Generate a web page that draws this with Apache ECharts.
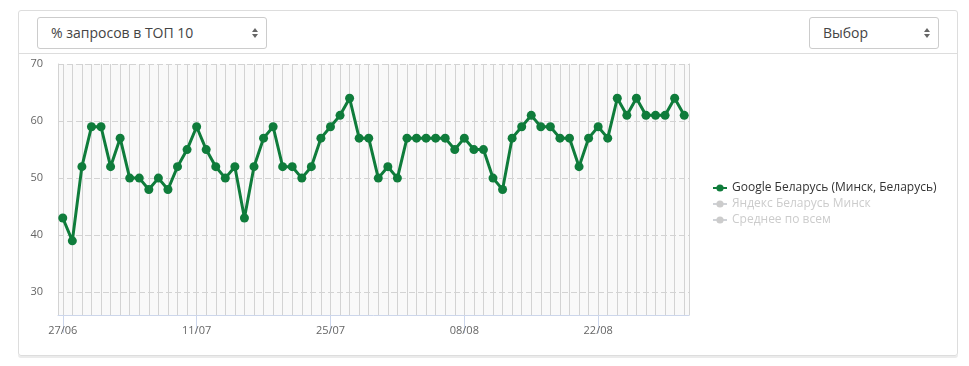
<!DOCTYPE html>
<html>
<head>
<meta charset="utf-8">
<script src="https://cdn.jsdelivr.net/npm/echarts@6/dist/echarts.min.js"></script>
<style>
html, body { margin: 0; padding: 0; background: #fff; font-family: "Open Sans", sans-serif; }
#panel {
	position: absolute; left: 18px; top: 10px; width: 938px; height: 344px;
	border: 1px solid #ddd; border-radius: 3px; box-shadow: 0 2px 0 #ebebeb;
}
#head { position: absolute; left: 0; top: 0; right: 0; height: 42px; border-bottom: 1px solid #ddd; }
.sel {
	position: absolute; top: 6px; height: 30px; border: 1px solid #ccc; border-radius: 3px;
	font-size: 14px; color: #444; line-height: 30px; padding-left: 13px; box-sizing: border-box;
}
.sel .arr { position: absolute; right: 11px; top: 10px; width: 0; height: 0; }
.sel .arr:before, .sel .arr:after { content: ""; position: absolute; left: -3px; border-left: 3px solid transparent; border-right: 3px solid transparent; }
.sel .arr:before { top: 0; border-bottom: 4px solid #666; }
.sel .arr:after { top: 6px; border-top: 4px solid #666; }
#s1 { left: 18px; width: 230px; height: 32px; }
#s2 { right: 18px; width: 130px; height: 32px; }
#chart { position: absolute; left: 0; top: 0; width: 969px; height: 366px; }
</style>
</head>
<body>
<div id="panel">
	<div id="head">
		<div class="sel" id="s1">% запросов в ТОП 10<span class="arr"></span></div>
		<div class="sel" id="s2">Выбор<span class="arr"></span></div>
	</div>
</div>
<div id="chart"></div>
<script>
var days = ['27/06', '28/06', '29/06', '30/06', '01/07', '02/07', '03/07', '04/07', '05/07', '06/07',
	'07/07', '08/07', '09/07', '10/07', '11/07', '12/07', '13/07', '14/07', '15/07', '16/07',
	'17/07', '18/07', '19/07', '20/07', '21/07', '22/07', '23/07', '24/07', '25/07', '26/07',
	'27/07', '28/07', '29/07', '30/07', '31/07', '01/08', '02/08', '03/08', '04/08', '05/08',
	'06/08', '07/08', '08/08', '09/08', '10/08', '11/08', '12/08', '13/08', '14/08', '15/08',
	'16/08', '17/08', '18/08', '19/08', '20/08', '21/08', '22/08', '23/08', '24/08', '25/08',
	'26/08', '27/08', '28/08', '29/08', '30/08', '31/08'];
var googleMinsk = [43, 39, 52, 59, 59, 52, 57, 50, 50, 48, 50, 48, 52, 55, 59, 55, 52, 50, 52, 43,
	52, 57, 59, 52, 52, 50, 52, 57, 59, 61, 64, 57, 57, 50, 52, 50, 57, 57, 57, 57,
	57, 55, 57, 55, 55, 50, 48, 57, 59, 61, 59, 59, 57, 57, 52, 57, 59, 57, 64, 61,
	64, 61, 61, 61, 64, 61];
var yTicks = [30, 40, 50, 60, 70];
var seriesNames = ['Google Беларусь (Минск, Беларусь)', 'Яндекс Беларусь Минск', 'Среднее по всем'];

var chart = echarts.init(document.getElementById('chart'));
var selected = {};
selected[seriesNames[1]] = false;
selected[seriesNames[2]] = false;

var option = {
	animation: false,
	textStyle: { fontFamily: 'Open Sans' },
	grid: {
		left: 58, top: 64, right: 280, bottom: 51,
		show: true, backgroundColor: '#f9f9f9', borderWidth: 0
	},
	legend: {
		orient: 'vertical',
		left: 707, top: 177,
		itemGap: 4,
		itemWidth: 14, itemHeight: 9,
		data: seriesNames,
		selected: selected,
		inactiveColor: '#ccc',
		textStyle: { fontSize: 12, color: '#333', fontFamily: 'Open Sans' }
	},
	xAxis: {
		type: 'category',
		data: days,
		boundaryGap: true,
		axisLine: { lineStyle: { color: '#ccd6eb' } },
		axisTick: { show: true, interval: 13, alignWithLabel: true, length: 18, lineStyle: { color: '#ccd6eb' } },
		axisLabel: { interval: 13, margin: 10, color: '#666', fontSize: 11 },
		splitLine: { show: false }
	},
	yAxis: [{
		type: 'value',
		min: 26,
		max: 70,
		axisLine: { show: true, lineStyle: { color: '#d3d3d3' } },
		axisTick: { show: false, customValues: yTicks },
		axisLabel: { customValues: yTicks, color: '#666', fontSize: 11, margin: 15 },
		splitLine: { show: true, lineStyle: { color: '#d3d3d3', type: [6, 3] } }
	}, {
		type: 'value',
		position: 'right',
		min: 26,
		max: 70,
		axisLine: { show: true, lineStyle: { color: '#d3d3d3' } },
		axisTick: { show: false },
		axisLabel: { show: false },
		splitLine: { show: false }
	}],
	series: [{
		type: 'line',
		data: [],
		z: 1,
		silent: true,
		markLine: {
			z: 1,
			silent: true,
			symbol: 'none',
			label: { show: false },
			lineStyle: { color: '#d3d3d3', type: 'solid', width: 1 },
			emphasis: { disabled: true },
			data: days.map(function (d) { return { xAxis: d }; })
		}
	}, {
		name: seriesNames[0],
		type: 'line',
		z: 3,
		data: googleMinsk,
		symbol: 'circle',
		symbolSize: 9,
		showSymbol: true,
		showAllSymbol: true,
		lineStyle: { color: '#0f7c3b', width: 3 },
		itemStyle: { color: '#0f7c3b', borderWidth: 0 }
	}, {
		name: seriesNames[1],
		type: 'line',
		data: [],
		symbol: 'circle',
		itemStyle: { color: '#0f7c3b' }
	}, {
		name: seriesNames[2],
		type: 'line',
		data: [],
		symbol: 'circle',
		itemStyle: { color: '#0f7c3b' }
	}]
};
chart.setOption(option);
</script>
</body>
</html>
